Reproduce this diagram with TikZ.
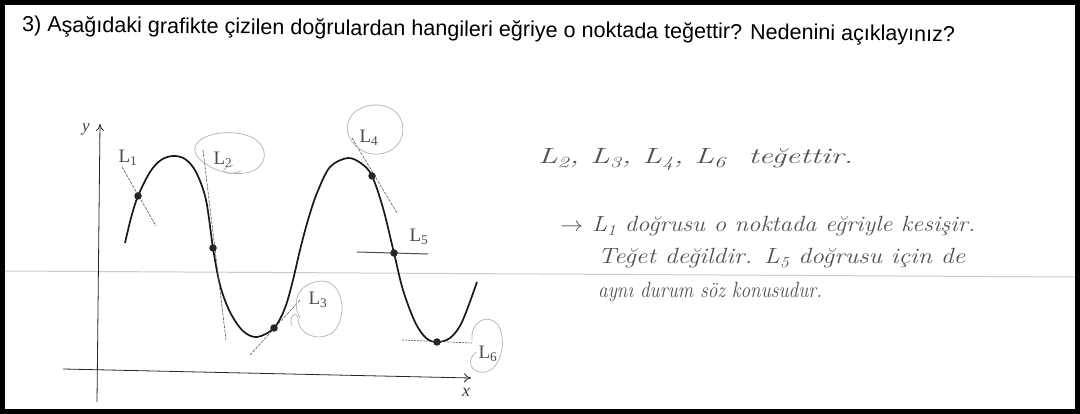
\documentclass[tikz,border=0pt]{standalone}
\usepackage{fontspec}
\newfontfamily\qfont{Liberation Sans}
\newfontfamily\lfont{Liberation Serif}
\usetikzlibrary{arrows.meta}
\begin{document}
\begin{tikzpicture}[x=1pt,y=-1pt,
  pencil/.style={draw=gray!60, line width=0.7pt},
  tline/.style={draw=black!65, line width=0.6pt, dash pattern=on 3pt off 1.2pt},
  axis/.style={draw=black!85, line width=0.8pt},
  curve/.style={draw=black!90, line width=1.7pt},
  dot/.style={circle, fill=black!85, inner sep=0pt, minimum size=7.5pt},
  lbl/.style={font=\lfont\fontsize{19}{19}\selectfont, text=black!70, inner sep=0pt},
  hand/.style={anchor=base west, inner sep=0pt, text=black!68, font=\itshape\fontsize{22}{22}\selectfont}
]
\useasboundingbox (0,0) rectangle (1080,414);
\fill[white] (0,0) rectangle (1080,414);

% scan line
\draw[draw=gray!40, line width=1pt] (4,271) -- (1075,277);

% question
\node[anchor=west, inner sep=0pt, rotate=-0.6] (q) at (22,26)
  {\resizebox{933pt}{!}{\qfont 3) Aşağıdaki grafikte çizilen doğrulardan hangileri eğriye o noktada teğettir? Nedenini açıklayınız?}};

% axes
\coordinate (yb) at (97,402);
\coordinate (yt) at (100,124);
\coordinate (xl) at (63,369);
\coordinate (xr) at (471,378);
\draw[axis,-{To[length=7pt,width=8pt]}] (yb) -- (yt);
\draw[axis,-{To[length=7pt,width=9pt]}] (xl) -- (xr);
\node[font=\lfont\itshape\fontsize{17}{17}\selectfont, text=black!75] (ylab) at (86,129) {y};
\node[font=\lfont\itshape\fontsize{18}{18}\selectfont, text=black!75] (xlab) at (466,392) {x};

% curve
\draw[curve] plot[smooth, tension=0.55] coordinates {
 (125,243) (131,218) (138,196) (150,172) (161,160) (173,156) (185,159) (196,172) (206,200) (213,248)
 (220,285) (230,312) (243,331) (257,337) (274,328) (285,308) (293,280) (300,250) (308,220)
 (317,193) (330,167) (348,158) (362,164) (372,176) (383,208) (394,253) (403,290) (415,322)
 (426,338) (437,342) (450,338) (462,322) (477,282)};

% tangent / secant lines
\coordinate (a1) at (122,167); \coordinate (b1) at (156,226);
\coordinate (a2) at (203,150); \coordinate (b2) at (226,340);
\coordinate (a3) at (250,355); \coordinate (b3) at (300,300);
\coordinate (a4) at (352,138); \coordinate (b4) at (397,213);
\coordinate (a5) at (357,252); \coordinate (b5) at (428,254);
\coordinate (a6) at (402,340); \coordinate (b6) at (472,343);
\draw[tline] (a1) -- (b1);
\draw[tline] (a2) -- (b2);
\draw[tline] (a3) -- (b3);
\draw[tline] (a4) -- (b4);
\draw[draw=black!70, line width=1pt] (a5) -- (b5);
\draw[tline, dash pattern=on 2pt off 1pt] (a6) -- (b6);

% points
\node[dot] (p1) at (138,196) {};
\node[dot] (p2) at (213,248) {};
\node[dot] (p3) at (274,328) {};
\node[dot] (p4) at (372,176) {};
\node[dot] (p5) at (394,253) {};
\node[dot] (p6) at (437,342) {};

% labels
\node[lbl] (l1) at (128,158) {L\textsubscript{1}};
\node[lbl] (l2) at (223,160) {L\textsubscript{2}};
\node[lbl] (l3) at (318,300) {L\textsubscript{3}};
\node[lbl] (l4) at (369,138) {L\textsubscript{4}};
\node[lbl] (l5) at (419,237) {L\textsubscript{5}};
\node[lbl] (l6) at (488,354) {L\textsubscript{6}};

% hand-drawn circles
\draw[pencil] (208,165) .. controls (180,150) and (200,130) .. (235,133)
  .. controls (270,136) and (272,165) .. (250,172) .. controls (235,176) and (215,172) .. (205,163);
\draw[pencil] (233,165) .. controls (215,170) and (226,177) .. (241,171);
\draw[pencil] (300,318) .. controls (290,300) and (300,282) .. (322,281)
  .. controls (345,282) and (348,320) .. (332,333) .. controls (318,342) and (298,335) .. (298,318)
  .. controls (296,310) and (288,316) .. (292,326);
\draw[pencil] (350,118) .. controls (360,100) and (395,100) .. (402,122)
  .. controls (408,145) and (385,160) .. (365,152) .. controls (350,145) and (343,130) .. (350,118);
\draw[pencil] (472,340) .. controls (470,322) and (488,312) .. (498,325)
  .. controls (508,342) and (500,370) .. (485,372) .. controls (470,374) and (466,360) .. (476,352);

% handwritten answer
\node[hand] (h1) at (538,164) {\resizebox{315pt}{\height}{L\textsubscript{2}, L\textsubscript{3}, L\textsubscript{4}, L\textsubscript{6} \ teğettir.}};
\node[hand] (h2) at (560,232) {\resizebox{415pt}{\height}{$\rightarrow$ L\textsubscript{1} doğrusu o noktada eğriyle kesişir.}};
\node[hand] (h3) at (598,264) {\resizebox{367pt}{\height}{Teğet değildir. L\textsubscript{5} doğrusu için de}};
\node[hand] (h4) at (598,298) {\resizebox{224pt}{\height}{aynı durum söz konusudur.}};

% frame
\draw[draw=black, line width=5pt] (2.5,2.5) rectangle (1077.5,411.5);
\end{tikzpicture}
\end{document}
